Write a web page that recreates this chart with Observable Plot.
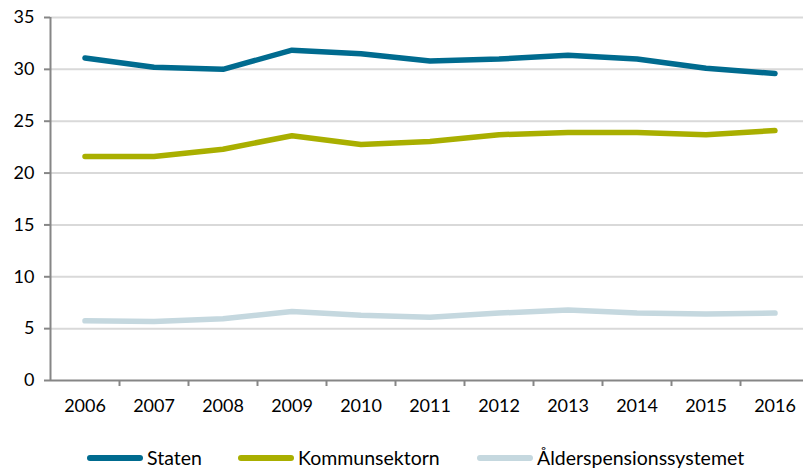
<!DOCTYPE html>
<html>
<head>
<meta charset="utf-8">
<script src="https://cdn.jsdelivr.net/npm/d3@7"></script>
<script src="https://cdn.jsdelivr.net/npm/@observablehq/plot@0.6"></script>
<style>
  html, body { margin: 0; padding: 0; background: #fff; overflow: hidden; }
  #wrap { position: relative; width: 803px; height: 469px; font-family: Lato, "Open Sans", sans-serif; }
  .leg { position: absolute; top: 447px; height: 22px; display: flex; align-items: center; font-size: 19.5px; line-height: 20px; color: #000; }
  .sw { width: 56px; height: 6px; border-radius: 3px; margin-right: 4px; }
</style>
</head>
<body>
<div id="wrap"></div>
<script>
const years = [2006, 2007, 2008, 2009, 2010, 2011, 2012, 2013, 2014, 2015, 2016];
const staten = [31.1, 30.2, 30.0, 31.85, 31.5, 30.8, 31.0, 31.35, 31.0, 30.1, 29.6];
const kommunsektorn = [21.6, 21.6, 22.3, 23.6, 22.75, 23.05, 23.7, 23.9, 23.9, 23.7, 24.1];
const alderspension = [5.75, 5.7, 5.95, 6.65, 6.3, 6.1, 6.5, 6.8, 6.5, 6.4, 6.5];
const seriesNames = ["Staten", "Kommunsektorn", "Ålderspensionssystemet"];
const seriesColors = ["#006b8f", "#a9af00", "#c5d8df"];
const yTicks = [0, 5, 10, 15, 20, 25, 30, 35];

const seriesValues = [staten, kommunsektorn, alderspension];
const data = [];
seriesNames.forEach((name, i) => years.forEach((yr, j) => data.push({series: name, year: yr, value: seriesValues[i][j]})));
const boundaries = years.slice(1).map(y => y - 0.5);

const chart = Plot.plot({
  width: 803,
  height: 440,
  marginLeft: 50,
  marginRight: 0,
  marginTop: 17,
  marginBottom: 60,
  style: {fontFamily: "Lato, 'Open Sans', sans-serif", fontSize: "18px", color: "#000", background: "#fff"},
  x: {type: "linear", domain: [2005.5, 2016.5], range: [50, 809]},
  y: {domain: [0, 35]},
  color: {domain: seriesNames, range: seriesColors},
  marks: [
    Plot.ruleY(yTicks.filter(d => d > 0), {stroke: "#d9d9d9", strokeWidth: 2}),
    Plot.axisY({ticks: yTicks, tickSize: 6, tickPadding: 10, tickFormat: d3.format("d"), stroke: "#868686", strokeWidth: 2, fontSize: 18, label: null}),
    Plot.axisX({ticks: boundaries, tickSize: 6, tickFormat: () => "", stroke: "#868686", strokeWidth: 2, label: null}),
    Plot.axisX({ticks: years, tickSize: 0, tickPadding: 19, tickFormat: d3.format("d"), fontSize: 18, label: null}),
    Plot.lineY(data, {x: "year", y: "value", stroke: "series", strokeWidth: 5.5, strokeLinecap: "round", strokeLinejoin: "round"}),
    Plot.ruleY([0], {stroke: "#868686", strokeWidth: 2}),
    Plot.ruleX([2005.5], {y1: 0, y2: 35, stroke: "#868686", strokeWidth: 2})
  ]
});
const wrap = document.getElementById("wrap");
wrap.appendChild(chart);

const legX = [87, 238, 477];
seriesNames.forEach((name, i) => {
  const item = document.createElement("div");
  item.className = "leg";
  item.style.left = legX[i] + "px";
  const sw = document.createElement("div");
  sw.className = "sw";
  sw.style.background = seriesColors[i];
  const t = document.createElement("span");
  t.textContent = name;
  item.appendChild(sw);
  item.appendChild(t);
  wrap.appendChild(item);
});
</script>
</body>
</html>
